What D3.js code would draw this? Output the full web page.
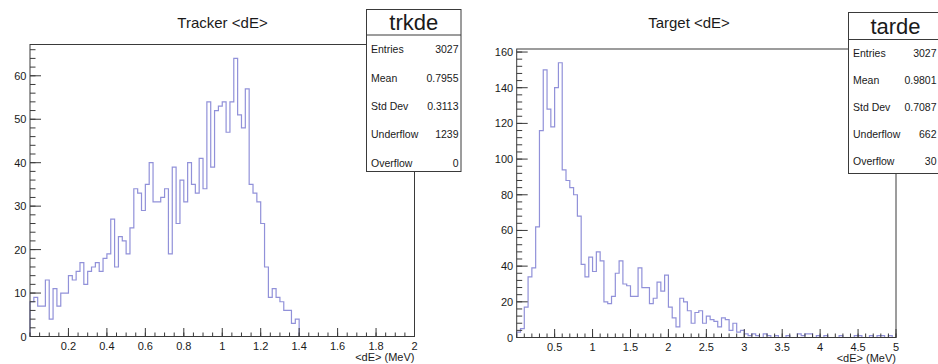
<!DOCTYPE html>
<html><head><meta charset="utf-8">
<script src="https://cdn.jsdelivr.net/npm/d3@7"></script>
<style>
body{margin:0;background:#fff;}
svg{display:block;}
text{font-family:"Liberation Sans",Arial,Helvetica,sans-serif;fill:#1a1a1a;}
</style>
</head><body>
<svg id="chart" width="938" height="364"></svg>
<script>
// ---------- DATA ----------
const trkTitle = "Tracker <dE>";
const tarTitle = "Target <dE>";
const xAxisTitle = "<dE> (MeV)";

// histogram binning (low edge, high edge, number of bins)
const trkBinning = [0, 2, 100];
const tarBinning = [0, 5, 100];

// bin contents
const trkCounts = [8,9,7,7,13,4,11,7,10,10,
  14,13,15,17,12,15,16,17,15,18,
  19,27,16,23,22,19,25,34,33,29,
  35,40,31,31,32,34,19,39,26,36,
  31,40,35,33,41,34,54,39,52,53,
  54,47,54,64,51,48,57,35,33,31,
  26,16,9,11,9,8,6,6,3,4,
  0,0,0,0,0,0,0,0,0,0,
  0,0,0,0,0,0,0,0,0,0,
  0,0,0,0,0,0,0,0,0,0];

const tarCounts = [3,5,17,34,39,62,116,150,128,118,
  140,154,94,88,84,80,68,41,34,45,
  37,48,43,20,19,23,36,43,30,29,
  23,23,39,28,28,19,22,31,26,35,
  17,11,6,22,20,15,8,14,15,8,
  12,10,9,6,11,10,4,8,3,4,
  2,1,2,1,0,2,1,0,1,0,
  0,1,0,0,2,1,2,2,0,1,
  0,1,0,0,0,1,0,0,0,1,
  1,0,0,1,0,1,1,0,1,0];

// tick labels
const trkXTicks = ["0.2","0.4","0.6","0.8","1","1.2","1.4","1.6","1.8","2"];
const trkYTicks = ["0","10","20","30","40","50","60"];
const tarXTicks = ["0.5","1","1.5","2","2.5","3","3.5","4","4.5","5"];
const tarYTicks = ["0","20","40","60","80","100","120","140","160"];

// statistics boxes
const statLabels = ["Entries","Mean","Std Dev","Underflow","Overflow"];
const trkStatName = "trkde";
const trkStats = ["3027","0.7955","0.3113","1239","0"];
const tarStatName = "tarde";
const tarStats = ["3027","0.9801","0.7087","662","30"];

// ---------- DRAW ----------
const svg = d3.select("#chart");
const lineColor = "#9191d9";
const axisColor = "#3a3a3a";

function panel(cfg){
  const g = svg.append("g");
  const [lo, hi, n] = cfg.binning;
  const x = d3.scaleLinear().domain([lo, hi]).range([cfg.left, cfg.right]);
  const yMax = d3.max(cfg.counts) * 1.05;
  const y = d3.scaleLinear().domain([0, yMax]).range([cfg.bottom, cfg.top]);
  const w = (hi - lo) / n;

  // histogram outline (step)
  const pts = [[x(lo), y(0)]];
  cfg.counts.forEach((v, i) => {
    pts.push([x(lo + i * w), y(v)]);
    pts.push([x(lo + (i + 1) * w), y(v)]);
  });
  pts.push([x(hi), y(0)]);
  g.append("path")
    .attr("d", d3.line()(pts))
    .attr("fill", "none")
    .attr("stroke", lineColor)
    .attr("stroke-width", 1.2);

  // frame
  g.append("rect")
    .attr("x", cfg.left).attr("y", cfg.top)
    .attr("width", cfg.right - cfg.left).attr("height", cfg.bottom - cfg.top)
    .attr("fill", "none").attr("stroke", axisColor).attr("stroke-width", 1);

  // x axis ticks
  const xMinor = d3.range(lo, hi + 1e-9, cfg.xMinorStep);
  g.selectAll(null).data(xMinor).enter().append("line")
    .attr("x1", d => x(d)).attr("x2", d => x(d))
    .attr("y1", cfg.bottom).attr("y2", cfg.bottom - 4)
    .attr("stroke", axisColor);
  const xMajorVals = cfg.xTicks.map(Number);
  g.selectAll(null).data(xMajorVals).enter().append("line")
    .attr("x1", d => x(d)).attr("x2", d => x(d))
    .attr("y1", cfg.bottom).attr("y2", cfg.bottom - 8.5)
    .attr("stroke", axisColor);
  g.selectAll(null).data(cfg.xTicks).enter().append("text")
    .attr("x", d => x(+d)).attr("y", cfg.bottom + 9.5)
    .attr("text-anchor", "middle").attr("dominant-baseline", "central")
    .attr("font-size", 11).text(d => d);

  // y axis ticks
  const yMinor = d3.range(0, yMax, cfg.yMinorStep);
  g.selectAll(null).data(yMinor).enter().append("line")
    .attr("x1", cfg.left).attr("x2", cfg.left + 5.5)
    .attr("y1", d => y(d)).attr("y2", d => y(d))
    .attr("stroke", axisColor);
  const yMajorVals = cfg.yTicks.map(Number);
  g.selectAll(null).data(yMajorVals).enter().append("line")
    .attr("x1", cfg.left).attr("x2", cfg.left + 11)
    .attr("y1", d => y(d)).attr("y2", d => y(d))
    .attr("stroke", axisColor);
  g.selectAll(null).data(cfg.yTicks).enter().append("text")
    .attr("x", cfg.left - 3.5).attr("y", d => y(+d))
    .attr("text-anchor", "end").attr("dominant-baseline", "central")
    .attr("font-size", 11).text(d => d);

  // axis title
  g.append("text")
    .attr("x", cfg.right).attr("y", cfg.bottom + 20.5)
    .attr("text-anchor", "end").attr("dominant-baseline", "central")
    .attr("font-size", 11).text(xAxisTitle);

  // title
  g.append("text")
    .attr("x", cfg.titleX).attr("y", 22)
    .attr("text-anchor", "middle").attr("dominant-baseline", "central")
    .attr("font-size", 15).text(cfg.title);

  // stats box
  const b = cfg.box;
  g.append("rect")
    .attr("x", b.x).attr("y", b.y).attr("width", b.w).attr("height", b.h)
    .attr("fill", "#fff").attr("stroke", axisColor).attr("stroke-width", 1);
  g.append("line")
    .attr("x1", b.x).attr("x2", b.x + b.w)
    .attr("y1", b.div).attr("y2", b.div)
    .attr("stroke", axisColor);
  g.append("text")
    .attr("x", b.x + b.w / 2).attr("y", (b.y + b.div) / 2 + 0.5)
    .attr("text-anchor", "middle").attr("dominant-baseline", "central")
    .attr("font-size", 22).text(cfg.statName);
  statLabels.forEach((lab, i) => {
    const yy = b.firstRow + i * b.rowStep;
    g.append("text").attr("x", b.x + 4.5).attr("y", yy)
      .attr("dominant-baseline", "central").attr("font-size", 10.5).text(lab);
    g.append("text").attr("x", b.valueX).attr("y", yy)
      .attr("text-anchor", "end")
      .attr("dominant-baseline", "central").attr("font-size", 10.5).text(cfg.stats[i]);
  });
}

panel({
  binning: trkBinning, counts: trkCounts,
  left: 30, right: 414.5, top: 44.5, bottom: 336.5,
  xTicks: trkXTicks, xMinorStep: 0.05,
  yTicks: trkYTicks, yMinorStep: 2,
  title: trkTitle, titleX: 222.5,
  statName: trkStatName, stats: trkStats,
  box: {x: 366.5, y: 9.5, w: 94.5, h: 162, div: 35, firstRow: 49.3, rowStep: 28.3, valueX: 458.5}
});

panel({
  binning: tarBinning, counts: tarCounts,
  left: 516.7, right: 896, top: 49, bottom: 337.5,
  xTicks: tarXTicks, xMinorStep: 0.1,
  yTicks: tarYTicks, yMinorStep: 4,
  title: tarTitle, titleX: 689,
  statName: tarStatName, stats: tarStats,
  box: {x: 848.5, y: 12.5, w: 94, h: 161, div: 39.5, firstRow: 53.3, rowStep: 26.9, valueX: 936.5}
});
</script>
</body></html>
